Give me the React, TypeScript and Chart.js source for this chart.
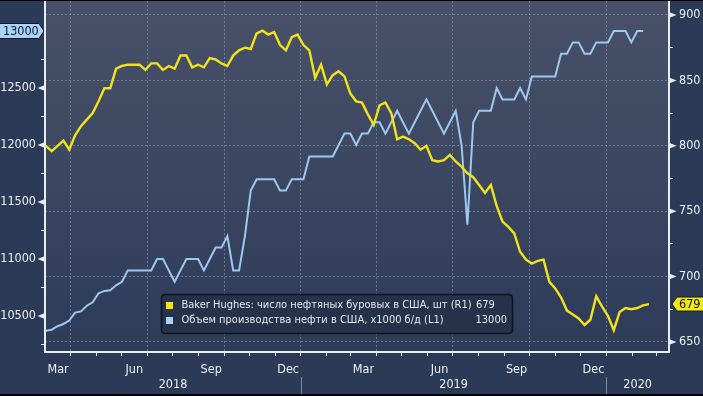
import React, { useEffect, useRef } from 'react';
import { Chart, registerables } from 'chart.js';

Chart.register(...registerables);

// ---------- data ----------
const weekDates = [
  '2018-03-02','2018-03-09','2018-03-16','2018-03-23','2018-03-30','2018-04-06','2018-04-13','2018-04-20','2018-04-27',
  '2018-05-04','2018-05-11','2018-05-18','2018-05-25','2018-06-01','2018-06-08','2018-06-15','2018-06-22','2018-06-29',
  '2018-07-06','2018-07-13','2018-07-20','2018-07-27','2018-08-03','2018-08-10','2018-08-17','2018-08-24','2018-08-31',
  '2018-09-07','2018-09-14','2018-09-21','2018-09-28','2018-10-05','2018-10-12','2018-10-19','2018-10-26',
  '2018-11-02','2018-11-09','2018-11-16','2018-11-23','2018-11-30','2018-12-07','2018-12-14','2018-12-21','2018-12-28',
  '2019-01-04','2019-01-11','2019-01-18','2019-01-25','2019-02-01','2019-02-08','2019-02-15','2019-02-22',
  '2019-03-01','2019-03-08','2019-03-15','2019-03-22','2019-03-29','2019-04-05','2019-04-12','2019-04-19','2019-04-26',
  '2019-05-03','2019-05-10','2019-05-17','2019-05-24','2019-05-31','2019-06-07','2019-06-14','2019-06-21','2019-06-28',
  '2019-07-05','2019-07-12','2019-07-19','2019-07-26','2019-08-02','2019-08-09','2019-08-16','2019-08-23','2019-08-30',
  '2019-09-06','2019-09-13','2019-09-20','2019-09-27','2019-10-04','2019-10-11','2019-10-18','2019-10-25',
  '2019-11-01','2019-11-08','2019-11-15','2019-11-22','2019-11-29','2019-12-06','2019-12-13','2019-12-20','2019-12-27',
  '2020-01-03','2020-01-10','2020-01-17','2020-01-24','2020-01-31','2020-02-07','2020-02-14','2020-02-21',
];

// Baker Hughes oil rigs (right axis)
const rigCount = [
  800, 796, 800, 804, 797, 808, 815, 820, 825, 834,
  844, 844, 859, 861, 862, 862, 862, 858, 863, 863,
  858, 861, 859, 869, 869, 860, 862, 860, 867, 866,
  863, 861, 869, 873, 875, 874, 886, 888, 885, 887,
  877, 873, 883, 885, 877, 873, 852, 862, 847, 854,
  857, 853, 840, 834, 833, 824, 816, 831, 833, 825,
  805, 807, 805, 802, 797, 800, 789, 788, 789, 793,
  788, 784, 779, 776, 770, 764, 770, 754, 742, 738,
  733, 719, 713, 710, 712, 713, 696, 691, 684, 674,
  671, 668, 663, 667, 685, 677, 670, 659, 673, 676,
  675, 676, 678, 679,
];

// US crude production, thousand b/d (left axis); last week not published yet
const oilOutput = [
  10370, 10380, 10410, 10430, 10460, 10530, 10540, 10590, 10620, 10700,
  10720, 10725, 10769, 10800, 10900, 10900, 10900, 10900, 10900, 11000,
  11000, 10900, 10800, 10900, 11000, 11000, 11000, 10900, 11000, 11100,
  11100, 11200, 10900, 10900, 11200, 11600, 11700, 11700, 11700, 11700,
  11600, 11600, 11700, 11700, 11700, 11900, 11900, 11900, 11900, 11900,
  12000, 12100, 12100, 12000, 12100, 12100, 12200, 12200, 12100, 12200,
  12300, 12200, 12100, 12200, 12300, 12400, 12300, 12200, 12100, 12200,
  12300, 12000, 11300, 12200, 12300, 12300, 12300, 12500, 12400, 12400,
  12400, 12500, 12400, 12600, 12600, 12600, 12600, 12600, 12800, 12800,
  12900, 12900, 12800, 12800, 12900, 12900, 12900, 13000, 13000, 13000,
  12900, 13000, 13000,
];

const seriesNames = [
  'Baker Hughes: число нефтяных буровых в США, шт (R1)',
  'Объем производства нефти в США, x1000 б/д (L1)',
];

const monthBoundaries = [
  '2018-04-01','2018-05-01','2018-06-01','2018-07-01','2018-08-01','2018-09-01','2018-10-01','2018-11-01','2018-12-01',
  '2019-01-01','2019-02-01','2019-03-01','2019-04-01','2019-05-01','2019-06-01','2019-07-01','2019-08-01','2019-09-01',
  '2019-10-01','2019-11-01','2019-12-01','2020-01-01','2020-02-01','2020-03-01',
];
const monthLabels = [
  'Mar','','','Jun','','','Sep','','','Dec','','','Mar','','','Jun','','','Sep','','','Dec','','',
];
const yearLabels = ['2018', '2019', '2020'];
const yearStarts = ['2019-01-01', '2020-01-01'];

const leftTickValues = [10250, 10500, 10750, 11000, 11250, 11500, 11750, 12000, 12250, 12500, 12750, 13000];
const leftTickLabels = ['', '10500', '', '11000', '', '11500', '', '12000', '', '12500', '', ''];
const rightTickValues = [650, 675, 700, 725, 750, 775, 800, 825, 850, 875, 900];
const rightTickLabels = ['650', '', '700', '', '750', '', '800', '', '850', '', '900'];

// ---------- helpers / styles ----------
const dayOf = (s: string) => {
  const [y, m, d] = s.split('-').map(Number);
  return (Date.UTC(y, m - 1, d) - Date.UTC(2018, 0, 1)) / 86400000;
};

const X_MIN = dayOf('2018-03-01');
const X_MAX = dayOf('2020-03-16');
const FONT = '"DejaVu Sans Condensed", "DejaVu Sans", sans-serif';
const TEXT = '#eef0f4';
const AXIS = '#e9ecf1';
const GRID = 'rgba(150,165,195,0.55)';
const YELLOW = '#f1e31a';
const BLUE = '#9dc8ef';
const OUTER_BG = '#2b3a57';

const yearCenters = (() => {
  const edges = [X_MIN, ...yearStarts.map(dayOf), X_MAX];
  return yearLabels.map((_, i) => (edges[i] + edges[i + 1]) / 2);
})();

const noPad = (s: any) => {
  s.paddingTop = 0;
  s.paddingBottom = 0;
  s.paddingLeft = 0;
  s.paddingRight = 0;
};

const backgroundPlugin = {
  id: 'bgFill',
  beforeDraw(chart: any) {
    const { ctx, chartArea: a, width, height } = chart;
    ctx.save();
    ctx.fillStyle = OUTER_BG;
    ctx.fillRect(0, 0, width, height);
    const g = ctx.createLinearGradient(0, a.top, 0, a.bottom);
    g.addColorStop(0, '#485168');
    g.addColorStop(0.55, '#3a4560');
    g.addColorStop(1, '#2d3b59');
    ctx.fillStyle = g;
    ctx.fillRect(a.left, a.top, a.right - a.left, a.bottom - a.top);
    ctx.restore();
  },
};

function tri(ctx: CanvasRenderingContext2D, x0: number, y: number, dir: number) {
  ctx.beginPath();
  ctx.moveTo(x0, y - 3);
  ctx.lineTo(x0 + dir, y);
  ctx.lineTo(x0, y + 3);
  ctx.closePath();
  ctx.fill();
}

function roundRect(ctx: CanvasRenderingContext2D, x: number, y: number, w: number, h: number, r: number) {
  ctx.beginPath();
  ctx.moveTo(x + r, y);
  ctx.lineTo(x + w - r, y);
  ctx.quadraticCurveTo(x + w, y, x + w, y + r);
  ctx.lineTo(x + w, y + h - r);
  ctx.quadraticCurveTo(x + w, y + h, x + w - r, y + h);
  ctx.lineTo(x + r, y + h);
  ctx.quadraticCurveTo(x, y + h, x, y + h - r);
  ctx.lineTo(x, y + r);
  ctx.quadraticCurveTo(x, y, x + r, y);
  ctx.closePath();
}

const decorPlugin = {
  id: 'decor',
  afterDraw(chart: any) {
    const { ctx, scales } = chart;
    const yL = scales.yL, yR = scales.yR, x = scales.x, x2 = scales.x2;
    ctx.save();

    // tick pointers
    ctx.fillStyle = AXIS;
    leftTickValues.forEach((v, i) => {
      if (leftTickLabels[i]) tri(ctx, yL.right, yL.getPixelForValue(v), -7.5);
    });
    rightTickValues.forEach((v, i) => {
      if (rightTickLabels[i]) tri(ctx, yR.left, yR.getPixelForValue(v), 7.5);
    });

    // year separators
    ctx.strokeStyle = '#7f8aa0';
    ctx.lineWidth = 1;
    yearStarts.forEach((d) => {
      const px = Math.round(x.getPixelForValue(dayOf(d))) + 0.5;
      ctx.beginPath();
      ctx.moveTo(px, x2.top + 1);
      ctx.lineTo(px, x2.bottom);
      ctx.stroke();
    });

    // last value tags
    const lastOut = oilOutput[oilOutput.length - 1];
    const lastRig = rigCount[rigCount.length - 1];
    ctx.font = `12.5px ${FONT}`;
    ctx.textBaseline = 'middle';

    const yb = yL.getPixelForValue(lastOut);
    const tipL = yL.right - 1;
    ctx.beginPath();
    ctx.moveTo(-2, yb - 7.5);
    ctx.lineTo(tipL - 5, yb - 7.5);
    ctx.lineTo(tipL, yb);
    ctx.lineTo(tipL - 5, yb + 7.5);
    ctx.lineTo(-2, yb + 7.5);
    ctx.closePath();
    ctx.fillStyle = '#a9d3f7';
    ctx.fill();
    ctx.strokeStyle = '#0f1a2c';
    ctx.stroke();
    ctx.fillStyle = '#0c1a33';
    ctx.textAlign = 'left';
    ctx.fillText(String(lastOut), 3, yb + 0.5);

    const yy = yR.getPixelForValue(lastRig);
    const tipR = yR.left + 3;
    ctx.beginPath();
    ctx.moveTo(tipR, yy);
    ctx.lineTo(tipR + 5, yy - 7);
    ctx.lineTo(chart.width + 2, yy - 7);
    ctx.lineTo(chart.width + 2, yy + 7);
    ctx.lineTo(tipR + 5, yy + 7);
    ctx.closePath();
    ctx.fillStyle = '#f4e71c';
    ctx.fill();
    ctx.strokeStyle = '#1c1c10';
    ctx.stroke();
    ctx.fillStyle = '#14140a';
    ctx.fillText(String(lastRig), tipR + 7, yy + 0.5);

    // legend
    const lx = 161.5, ly = 293.5, lw = 351, lh = 39;
    roundRect(ctx, lx, ly, lw, lh, 4);
    ctx.fillStyle = '#26314a';
    ctx.fill();
    ctx.strokeStyle = '#0c1321';
    ctx.lineWidth = 1.5;
    ctx.stroke();

    ctx.font = `11px ${FONT}`;
    ctx.textBaseline = 'middle';
    const rows = [
      { color: '#f7e600', name: seriesNames[0], val: String(lastRig), y: 304.5, align: 'left', vx: 476 },
      { color: '#a8d4ff', name: seriesNames[1], val: String(lastOut), y: 319.5, align: 'right', vx: 507 },
    ];
    rows.forEach((r) => {
      ctx.fillStyle = r.color;
      ctx.fillRect(166, r.y - 3.5, 7, 7);
      ctx.fillStyle = '#e6e8ec';
      ctx.textAlign = 'left';
      ctx.fillText(r.name, 181.5, r.y);
      ctx.textAlign = r.align as CanvasTextAlign;
      ctx.fillText(r.val, r.vx, r.y);
    });

    ctx.restore();
  },
};

export default function App() {
  const ref = useRef<HTMLCanvasElement>(null);

  useEffect(() => {
    const canvas = ref.current;
    if (!canvas) return;

    const rigPoints = weekDates.map((d, i) => ({ x: dayOf(d), y: rigCount[i] }));
    const outPoints = oilOutput.map((v, i) => ({ x: dayOf(weekDates[i]), y: v }));
    const tickFont = { family: FONT, size: 12.5 };

    const chart = new Chart(canvas, {
      type: 'line',
      data: {
        datasets: [
          {
            label: seriesNames[0],
            data: rigPoints,
            xAxisID: 'x',
            yAxisID: 'yR',
            borderColor: YELLOW,
            borderWidth: 2.4,
            pointRadius: 0,
            tension: 0,
            fill: false,
          },
          {
            label: seriesNames[1],
            data: outPoints,
            xAxisID: 'x',
            yAxisID: 'yL',
            borderColor: BLUE,
            borderWidth: 2,
            pointRadius: 0,
            tension: 0,
            fill: false,
          },
        ],
      },
      options: {
        animation: false,
        responsive: false,
        maintainAspectRatio: false,
        events: [],
        layout: { padding: 0 },
        plugins: { legend: { display: false }, tooltip: { enabled: false } },
        scales: {
          x: {
            type: 'linear',
            position: 'bottom',
            min: X_MIN,
            max: X_MAX,
            afterBuildTicks: (s: any) => {
              s.ticks = monthBoundaries.map((d) => ({ value: dayOf(d) }));
            },
            afterFit: (s: any) => {
              s.height = 24;
              noPad(s);
            },
            ticks: {
              autoSkip: false,
              maxRotation: 0,
              minRotation: 0,
              labelOffset: -12.8,
              padding: 6,
              color: TEXT,
              font: tickFont,
              callback: (_v: any, i: number) => monthLabels[i],
            },
            grid: {
              drawOnChartArea: true,
              color: (c: any) => (monthLabels[c.index] ? GRID : 'rgba(0,0,0,0)'),
              tickColor: AXIS,
              tickLength: 4,
              lineWidth: 1,
            },
            border: { color: AXIS, width: 2, dash: [2, 2] },
          },
          x2: {
            type: 'linear',
            position: 'bottom',
            min: X_MIN,
            max: X_MAX,
            afterBuildTicks: (s: any) => {
              s.ticks = yearCenters.map((v) => ({ value: v }));
            },
            afterFit: (s: any) => {
              s.height = 18;
              noPad(s);
            },
            ticks: {
              autoSkip: false,
              maxRotation: 0,
              minRotation: 0,
              padding: 1,
              color: TEXT,
              font: tickFont,
              callback: (_v: any, i: number) => yearLabels[i],
            },
            grid: { display: false, drawTicks: false },
            border: { display: false },
          },
          yL: {
            type: 'linear',
            position: 'left',
            min: 10184.2,
            max: 13263.2,
            afterBuildTicks: (s: any) => {
              s.ticks = leftTickValues.map((v) => ({ value: v }));
            },
            afterFit: (s: any) => {
              s.width = 45;
              noPad(s);
            },
            ticks: {
              autoSkip: false,
              padding: 5,
              color: TEXT,
              font: tickFont,
              callback: (_v: any, i: number) => leftTickLabels[i],
            },
            grid: { drawOnChartArea: false, tickColor: AXIS, tickLength: 4 },
            border: { color: AXIS, width: 2 },
          },
          yR: {
            type: 'linear',
            position: 'right',
            min: 642.35,
            max: 910.7,
            afterBuildTicks: (s: any) => {
              s.ticks = rightTickValues.map((v) => ({ value: v }));
            },
            afterFit: (s: any) => {
              s.width = 34;
              noPad(s);
            },
            ticks: {
              autoSkip: false,
              padding: 6,
              color: TEXT,
              font: tickFont,
              callback: (_v: any, i: number) => rightTickLabels[i],
            },
            grid: {
              drawOnChartArea: true,
              color: (c: any) => (rightTickLabels[c.index] ? GRID : 'rgba(0,0,0,0)'),
              tickColor: AXIS,
              tickLength: 4,
              lineWidth: 1,
            },
            border: { color: AXIS, width: 2, dash: [2, 2] },
          },
        },
      } as any,
      plugins: [backgroundPlugin, decorPlugin],
    });

    return () => chart.destroy();
  }, []);

  return (
    <div
      style={{
        position: 'fixed',
        left: 0,
        top: 0,
        width: 703,
        height: 396,
        background: '#000',
        overflow: 'hidden',
      }}
    >
      <canvas
        ref={ref}
        width={703}
        height={393}
        style={{ position: 'absolute', left: 0, top: 1, width: 703, height: 393 }}
      />
    </div>
  );
}
